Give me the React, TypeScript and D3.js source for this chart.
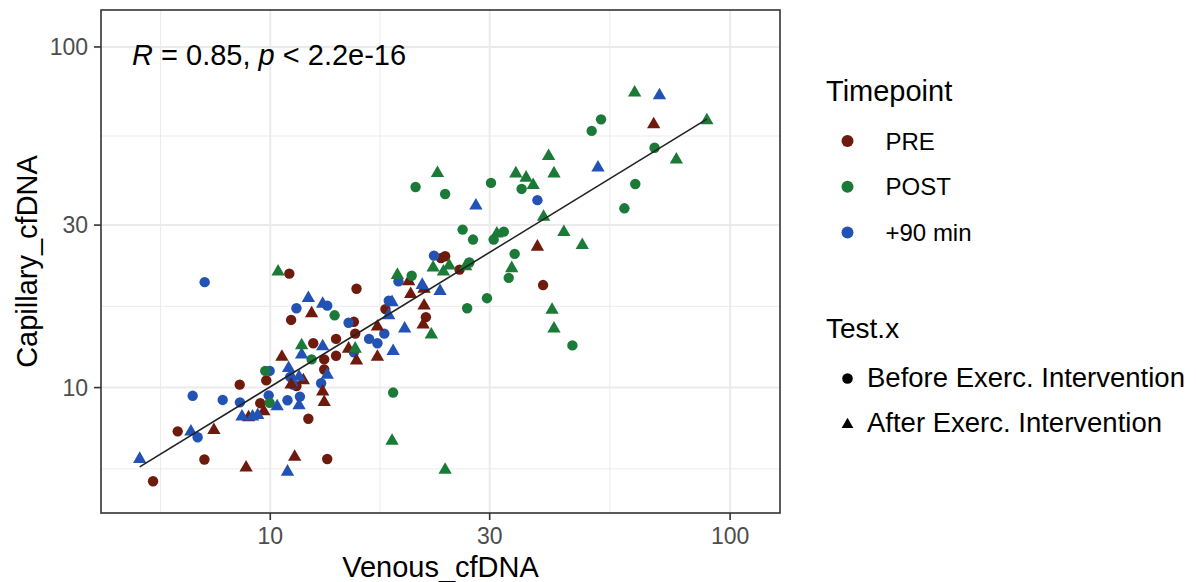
import React from 'react';
import * as d3 from 'd3';

// ---------- data ----------
const TICKS = [10, 30, 100];
const LIMITS: [number, number] = [5, 110];
const TIMEPOINTS = ['PRE', 'POST', '+90 min'];
const TP_COLORS = ['#6E1A0D', '#1B7A37', '#2152B4'];
const TESTS = ['Before Exerc. Intervention', 'After Exerc. Intervention'];
const STAT_LABEL = { r: '0.85', p: '2.2e-16' };

// [Venous_cfDNA, Capillary_cfDNA]
const preBefore: [number, number][] = [
  [23.5, 24.0], [24.0, 24.3], [25.8, 22.2], [11.0, 21.6], [15.4, 19.5], [11.1, 15.8], [17.8, 17.0],
  [21.8, 16.1], [15.2, 15.6], [15.3, 14.4], [13.9, 13.9], [12.4, 13.5], [13.9, 12.4], [13.1, 12.1],
  [13.1, 11.3], [9.8, 10.5], [11.4, 10.1], [8.58, 10.2], [9.51, 9.0], [12.1, 8.1], [6.29, 7.44],
  [7.19, 6.15], [13.3, 6.17], [5.56, 5.31], [39.2, 20.0],
];
const preAfter: [number, number][] = [
  [20.0, 20.5], [21.6, 19.5], [20.2, 18.8], [21.6, 17.4], [12.3, 16.5], [21.5, 15.3], [17.1, 15.1],
  [14.8, 13.0], [17.1, 12.3], [15.4, 12.0], [10.6, 12.3], [11.8, 10.5], [11.1, 10.2], [13.0, 9.73],
  [13.1, 9.06], [9.68, 8.52], [8.97, 8.17], [7.54, 7.5], [8.86, 5.82], [11.3, 6.26], [38.1, 25.9],
  [68.2, 59.2],
];
const postBefore: [number, number][] = [
  [27.1, 23.3], [20.3, 21.3], [13.8, 16.3], [29.6, 18.3], [26.8, 17.1], [12.3, 12.1], [9.75, 11.2],
  [9.97, 9.02], [18.5, 9.67], [52.4, 61.3], [50.0, 56.7], [68.5, 50.6], [35.2, 38.3], [30.2, 39.9],
  [20.7, 38.8], [24.0, 37.0], [62.2, 39.6], [58.9, 33.6], [26.2, 29.1], [27.6, 27.2], [30.6, 27.2],
  [32.2, 28.7], [34.0, 24.7], [33.0, 21.0], [45.4, 13.3],
];
const postAfter: [number, number][] = [
  [22.6, 22.5], [24.5, 22.8], [23.8, 21.9], [26.6, 22.7], [10.4, 21.9], [18.9, 21.4], [22.4, 14.3],
  [11.7, 13.3], [15.3, 13.0], [18.4, 6.97], [24.0, 5.73], [62.0, 73.4], [89.0, 60.9], [76.4, 46.7],
  [40.3, 47.8], [41.4, 42.5], [34.2, 42.5], [36.0, 41.3], [37.3, 39.3], [23.1, 42.6], [39.3, 31.7],
  [43.5, 28.6], [47.7, 26.2], [31.1, 28.3], [33.5, 22.4], [41.0, 16.9], [41.4, 14.9],
];
const min90Before: [number, number][] = [
  [22.7, 24.4], [7.2, 20.4], [19.0, 20.5], [13.3, 17.4], [11.4, 17.1], [18.1, 18.0], [14.8, 15.5],
  [16.4, 13.9], [17.7, 14.4], [17.1, 13.5], [15.2, 12.7], [9.97, 11.2], [11.05, 10.75], [11.2, 10.2],
  [12.9, 10.3], [9.92, 9.49], [6.78, 9.46], [7.88, 9.2], [8.59, 9.05], [10.9, 9.18], [11.6, 9.41],
  [6.95, 7.15], [38.1, 35.5],
];
const min90After: [number, number][] = [
  [21.4, 20.0], [23.4, 19.2], [18.4, 17.8], [18.1, 16.3], [12.1, 18.3], [13.0, 17.6], [19.6, 14.9],
  [18.5, 12.8], [13.0, 13.2], [11.7, 12.5], [10.96, 11.4], [13.3, 10.9], [11.55, 10.75], [11.55, 8.86],
  [10.35, 8.81], [9.39, 8.3], [9.15, 8.21], [8.68, 8.21], [6.72, 7.42], [5.2, 6.17], [10.9, 5.66],
  [28.0, 34.2], [51.6, 44.2], [70.2, 72.1],
];

const GROUPS = [
  { data: preBefore, tp: 0, test: 0 },
  { data: min90Before, tp: 2, test: 0 },
  { data: preAfter, tp: 0, test: 1 },
  { data: postBefore, tp: 1, test: 0 },
  { data: min90After, tp: 2, test: 1 },
  { data: postAfter, tp: 1, test: 1 },
];

const FONT = '"Liberation Sans", Arial, Helvetica, sans-serif';

export default function App() {
  const W = 1196, H = 582;
  const P = { left: 101, right: 780, top: 10, bottom: 513 };

  const lo = Math.log10(LIMITS[0]);
  const hi = Math.log10(LIMITS[1]);
  const pad = (hi - lo) * 0.05;
  const dom: [number, number] = [10 ** (lo - pad), 10 ** (hi + pad)];
  const x = d3.scaleLog().domain(dom).range([P.left, P.right]);
  const y = d3.scaleLog().domain(dom).range([P.bottom, P.top]);

  // minor breaks like ggplot (midpoints in transformed space)
  const lt = TICKS.map(Math.log10);
  const n = lt.length;
  const ext = [lt[0] - (lt[1] - lt[0]), ...lt, lt[n - 1] + (lt[n - 1] - lt[n - 2])];
  const minors = d3.range(ext.length - 1)
    .map((i) => 10 ** ((ext[i] + ext[i + 1]) / 2))
    .filter((v) => v > dom[0] && v < dom[1]);

  // linear fit in log-log space
  const all = GROUPS.flatMap((g) => g.data);
  const lxs = all.map((d) => Math.log10(d[0]));
  const lys = all.map((d) => Math.log10(d[1]));
  const mx = d3.mean(lxs)!, my = d3.mean(lys)!;
  const b = d3.sum(lxs.map((v, i) => (v - mx) * (lys[i] - my))) / d3.sum(lxs.map((v) => (v - mx) ** 2));
  const a = my - b * mx;
  const [xmin, xmax] = d3.extent(all, (d) => d[0]) as [number, number];
  const fitPts: [number, number][] = [xmin, xmax].map((v) => [v, 10 ** (a + b * Math.log10(v))]);
  const line = d3.line<[number, number]>().x((d) => x(d[0])).y((d) => y(d[1]));

  const tri = d3.symbol(d3.symbolTriangle, 77)()!;
  const triLegend = d3.symbol(d3.symbolTriangle, 60)()!;

  const gridMajor = '#EBEBEB';
  const tickCol = '#333333';
  const textGray = '#4D4D4D';

  return (
    <div style={{ position: 'absolute', left: 0, top: 0 }}>
      <svg width={W} height={H} style={{ display: 'block', background: '#fff', fontFamily: FONT }}>
        <rect x={0} y={0} width={W} height={H} fill="#fff" />
        {/* grid */}
        {minors.map((v) => (
          <g key={'mn' + v}>
            <line x1={x(v)} x2={x(v)} y1={P.top} y2={P.bottom} stroke={gridMajor} strokeWidth={1} />
            <line x1={P.left} x2={P.right} y1={y(v)} y2={y(v)} stroke={gridMajor} strokeWidth={1} />
          </g>
        ))}
        {TICKS.map((v) => (
          <g key={'mj' + v}>
            <line x1={x(v)} x2={x(v)} y1={P.top} y2={P.bottom} stroke={gridMajor} strokeWidth={2} />
            <line x1={P.left} x2={P.right} y1={y(v)} y2={y(v)} stroke={gridMajor} strokeWidth={2} />
          </g>
        ))}

        {/* points */}
        {GROUPS.map((g, gi) => (
          <g key={'g' + gi} fill={TP_COLORS[g.tp]}>
            {g.data.map((d, i) =>
              g.test === 0 ? (
                <circle key={i} cx={x(d[0])} cy={y(d[1])} r={5.2} />
              ) : (
                <path key={i} d={tri} transform={`translate(${x(d[0])},${y(d[1])})`} />
              )
            )}
          </g>
        ))}

        {/* regression line */}
        <path d={line(fitPts)!} fill="none" stroke="#222" strokeWidth={1.6} />

        {/* stat label */}
        <text x={132} y={65} fontSize={29} fill="#000">
          <tspan fontStyle="italic">R</tspan>
          <tspan>{` = ${STAT_LABEL.r}, `}</tspan>
          <tspan fontStyle="italic">p</tspan>
          <tspan>{` < ${STAT_LABEL.p}`}</tspan>
        </text>

        {/* panel border */}
        <rect x={P.left} y={P.top} width={P.right - P.left} height={P.bottom - P.top} fill="none" stroke={tickCol} strokeWidth={1.6} />

        {/* axes */}
        {TICKS.map((v) => (
          <g key={'xt' + v}>
            <line x1={x(v)} x2={x(v)} y1={P.bottom} y2={P.bottom + 7} stroke={tickCol} strokeWidth={1.6} />
            <text x={x(v)} y={544} textAnchor="middle" fontSize={23} fill={textGray}>{v}</text>
          </g>
        ))}
        {TICKS.map((v) => (
          <g key={'yt' + v}>
            <line x1={P.left - 7} x2={P.left} y1={y(v)} y2={y(v)} stroke={tickCol} strokeWidth={1.6} />
            <text x={88} y={y(v)} dy="0.36em" textAnchor="end" fontSize={23} fill={textGray}>{v}</text>
          </g>
        ))}
        <text x={(P.left + P.right) / 2} y={577} textAnchor="middle" fontSize={29} fill="#000">Venous_cfDNA</text>
        <text transform={`translate(37,${(P.top + P.bottom) / 2}) rotate(-90)`} textAnchor="middle" fontSize={29} fill="#000">Capillary_cfDNA</text>

        {/* legend: Timepoint */}
        <text x={826} y={101} fontSize={29} fill="#000">Timepoint</text>
        {TIMEPOINTS.map((t, i) => (
          <g key={t}>
            <circle cx={847.5} cy={141 + i * 45.8} r={6} fill={TP_COLORS[i]} />
            <text x={885.5} y={149.5 + i * 45.8} fontSize={24} fill="#000">{t}</text>
          </g>
        ))}

        {/* legend: Test.x */}
        <text x={826} y={337.5} fontSize={28} fill="#000">Test.x</text>
        {TESTS.map((t, i) => (
          <g key={t}>
            {i === 0 ? (
              <circle cx={847.5} cy={378.5} r={5.3} fill="#000" />
            ) : (
              <path d={triLegend} transform={`translate(847.5,${424.5})`} fill="#000" />
            )}
            <text x={867} y={386.5 + i * 45} fontSize={27.5} fill="#000">{t}</text>
          </g>
        ))}
      </svg>
    </div>
  );
}
